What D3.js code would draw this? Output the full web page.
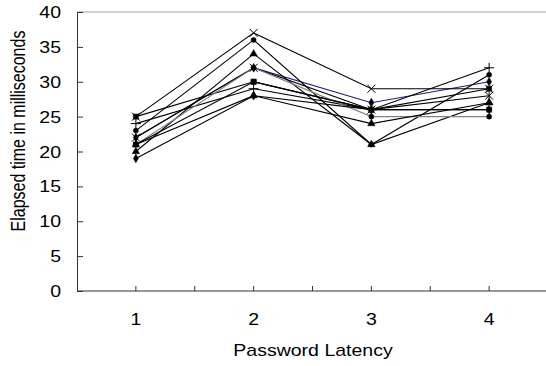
<!DOCTYPE html>
<html>
<head>
<meta charset="utf-8">
<script src="https://cdn.jsdelivr.net/npm/d3@7"></script>
<style>
  body { margin: 0; background: #fff; }
  text { font-family: "Liberation Sans", Arial, sans-serif; fill: #000; font-size: 16px; }
</style>
</head>
<body>
<div id="chart"></div>
<script>
// categories on the x axis
const categories = [1, 2, 3, 4];
const yTicks = [0, 5, 10, 15, 20, 25, 30, 35, 40];

// one array per subject, values at latency 1..4
const s1 = [22, 32, 27, 30];
const s2 = [25, 30, 26, 29];
const s3 = [20, 34, 21, 27];
const s4 = [25, 37, 29, 29];
const s5 = [22, 32, 26, 28];
const s6 = [23, 36, 21, 31];
const s7 = [24, 29, 26, 32];
const s8 = [21, 32, 25, 25];
const s9 = [21, 28, 24, 27];
const s10 = [21, 30, 26, 26];
const s11 = [19, 28, 26, 26];

const series = [
  { values: s1, marker: 'diamond', color: '#1f1f7a' },
  { values: s2, marker: 'square', color: '#000' },
  { values: s3, marker: 'triangle', color: '#000' },
  { values: s4, marker: 'x', color: '#000' },
  { values: s5, marker: 'asterisk', color: '#000' },
  { values: s6, marker: 'circle', color: '#000' },
  { values: s7, marker: 'plus', color: '#000' },
  { values: s8, marker: 'circle', color: '#808080' },
  { values: s9, marker: 'triangle', color: '#000' },
  { values: s10, marker: 'square', color: '#000' },
  { values: s11, marker: 'diamond', color: '#000' }
];

const W = 546, H = 366;
const plot = { left: 77, right: 548, top: 12, bottom: 291 };
const stretch = 1.22; // the original text is wider than tall

const svg = d3.select('#chart')
  .append('svg')
  .attr('width', W)
  .attr('height', H);

const x = d3.scaleBand()
  .domain(categories)
  .range([plot.left, plot.right]);

const y = d3.scaleLinear()
  .domain([0, 40])
  .range([plot.bottom, plot.top]);

const cx = d => x(d) + x.bandwidth() / 2;

// plot area top border
svg.append('line')
  .attr('x1', plot.left).attr('x2', W)
  .attr('y1', plot.top).attr('y2', plot.top)
  .attr('stroke', '#c0c0c0').attr('stroke-width', 1.5);

// y axis, ticks point inward
const yAxis = svg.append('g')
  .attr('transform', `translate(${plot.left},0)`)
  .call(d3.axisRight(y).tickValues(yTicks).tickSize(6).tickFormat(''));
yAxis.select('.domain').attr('stroke', '#333');
yAxis.selectAll('.tick line').attr('stroke', '#333');

svg.selectAll('.ylab')
  .data(yTicks)
  .enter()
  .append('text')
  .attr('class', 'ylab')
  .attr('transform', d => `translate(${plot.left - 16},${y(d) + 6}) scale(${stretch},1)`)
  .attr('text-anchor', 'end')
  .text(d => d);

// x axis: ticks at category centres and band edges
const xTickPos = [];
categories.forEach(c => {
  xTickPos.push(cx(c));
  xTickPos.push(x(c) + x.bandwidth());
});
svg.append('line')
  .attr('x1', plot.left).attr('x2', W)
  .attr('y1', plot.bottom).attr('y2', plot.bottom)
  .attr('stroke', '#333');
svg.selectAll('.xtick')
  .data(xTickPos)
  .enter()
  .append('line')
  .attr('x1', d => d).attr('x2', d => d)
  .attr('y1', plot.bottom).attr('y2', plot.bottom - 5)
  .attr('stroke', '#333');

svg.selectAll('.xlab')
  .data(categories)
  .enter()
  .append('text')
  .attr('transform', d => `translate(${cx(d)},325) scale(${stretch},1)`)
  .attr('text-anchor', 'middle')
  .text(d => d);

svg.append('text')
  .attr('transform', `translate(313,356) scale(${stretch},1)`)
  .attr('text-anchor', 'middle')
  .text('Password Latency');

svg.append('text')
  .attr('transform', `translate(25,131) scale(${stretch},1) rotate(-90)`)
  .attr('text-anchor', 'middle')
  .text('Elapsed time in milliseconds');

// lines
const line = d3.line()
  .x((d, i) => cx(categories[i]))
  .y(d => y(d));

svg.selectAll('.series')
  .data(series)
  .enter()
  .append('path')
  .attr('d', d => line(d.values))
  .attr('fill', 'none')
  .attr('stroke', d => d.color)
  .attr('stroke-width', 1.1);

// markers
const sym = {
  diamond: d3.symbol(d3.symbolDiamond, 22)(),
  square: d3.symbol(d3.symbolSquare, 26)(),
  triangle: d3.symbol(d3.symbolTriangle, 24)(),
  circle: d3.symbol(d3.symbolCircle, 20)(),
  x: 'M-4,-4L4,4M-4,4L4,-4',
  plus: 'M-5,0L5,0M0,-5L0,5',
  asterisk: 'M-4,-4L4,4M-4,4L4,-4M0,-4L0,4'
};
const stroked = { x: true, plus: true, asterisk: true };

series.forEach(s => {
  svg.selectAll(null)
    .data(s.values)
    .enter()
    .append('path')
    .attr('transform', (d, i) => `translate(${cx(categories[i])},${y(d)})`)
    .attr('d', sym[s.marker])
    .attr('fill', stroked[s.marker] ? 'none' : '#000')
    .attr('stroke', '#000')
    .attr('stroke-width', stroked[s.marker] ? 1 : 0.5);
});
</script>
</body>
</html>
